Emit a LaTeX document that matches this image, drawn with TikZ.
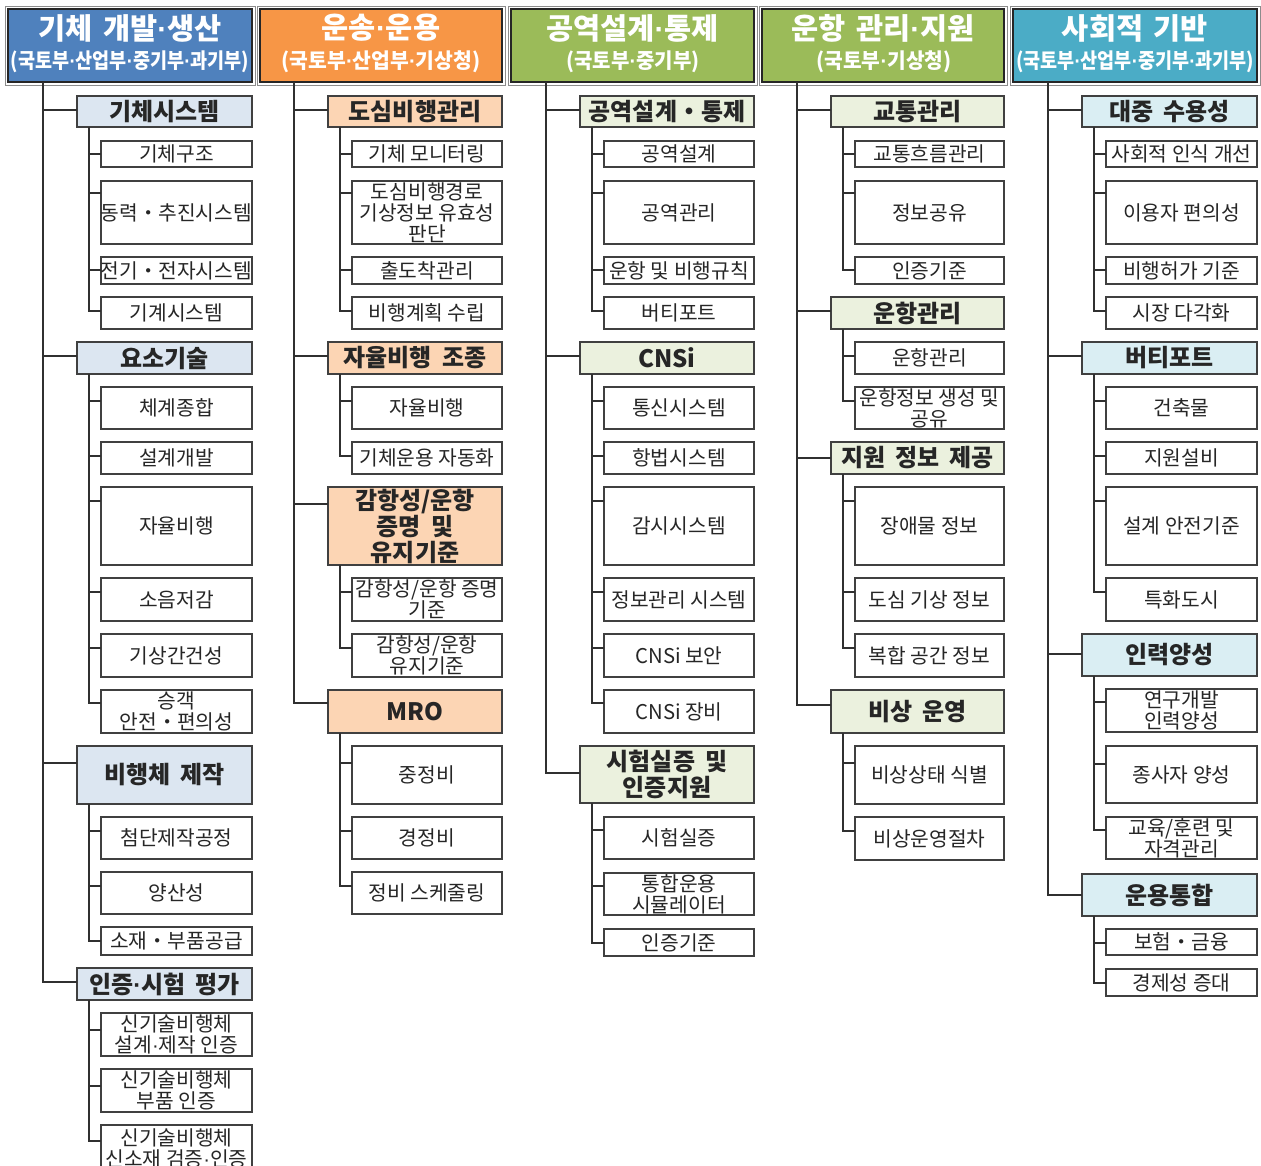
\documentclass[tikz,border=0pt]{standalone}
\usepackage{fontspec}
\setmainfont{Noto Sans CJK KR}
\newfontfamily\ldotfont{Liberation Sans}
\usepackage{graphicx}
\definecolor{hblue}{HTML}{4F81BD}
\definecolor{horange}{HTML}{F79646}
\definecolor{hgreen}{HTML}{9BBB59}
\definecolor{hteal}{HTML}{4BACC6}
\definecolor{cblue}{HTML}{DCE6F1}
\definecolor{corange}{HTML}{FCD5B4}
\definecolor{cgreen}{HTML}{EBF1DE}
\definecolor{cteal}{HTML}{DAEEF3}
\definecolor{boxline}{HTML}{404040}
\definecolor{linec}{HTML}{303030}
\definecolor{txtc}{HTML}{262626}
\newcommand{\md}{{\ldotfont ·}}
\newcommand{\bxat}[7]{\node[#1, minimum width={(#4)-(#3)}, minimum height={(#6)-(#5)}] (#2) at ({((#3)+(#4))/2},{((#5)+(#6))/2}) {#7};}
\newcommand{\lk}[4]{\draw[conn] ([xshift=#3pt]#1.south west) |- ([yshift=-#4pt]#2.north west);}
\newcommand{\catfont}{\bfseries\fontsize{24}{26}\selectfont\setlength{\spaceskip}{0.42em}}
\newcommand{\subfont}{\fontsize{20.3}{21}\selectfont}
\newcommand{\titfont}{\bfseries\fontsize{29.5}{30}\selectfont\setlength{\spaceskip}{0.35em}}
\begin{document}
\begin{tikzpicture}[x=1pt,y=-1pt,
  bx/.style={draw=boxline, line width=1.3pt, inner sep=0pt, outer sep=0pt, align=center},
  subb/.style={bx, fill=white, text=txtc, font={\subfont}},
  catb/.style={bx, line width=1.5pt, text=txtc, font={\catfont}},
  conn/.style={draw=linec, line width=1.3pt},
  hdr/.style={draw=black!85, line width=1.6pt, inner sep=0pt, outer sep=0pt, minimum height=73},
  hframe/.style={draw=black!45, line width=0.8pt},
  htitle/.style={text=white, inner sep=0pt, font={\titfont}},
  hsub/.style={text=white, inner sep=0pt, font={\bfseries\fontsize{21}{22}\selectfont}},
]
\useasboundingbox (0,0) rectangle (1261,1165);
\fill[white] (0,0) rectangle (1261,1165);

% ---------------- headers ----------------
\node[hdr, fill=hblue, minimum width=244] (H1) at (130,45.5) {};
\node[hdr, fill=horange, minimum width=242] (H2) at (381,45.5) {};
\node[hdr, fill=hgreen, minimum width=243] (H3) at (632.5,45.5) {};
\node[hdr, fill=hgreen, minimum width=242] (H4) at (883,45.5) {};
\node[hdr, fill=hteal, minimum width=244] (H5) at (1135,45.5) {};
\foreach \h in {H1,H2,H3,H4,H5}{
  \draw[hframe] ([shift={(-3pt,3pt)}]\h.north west) rectangle ([shift={(3pt,-3pt)}]\h.south east);
}
\node[htitle] (T1) at (130,28) {기체 개발\md 생산};
\node[hsub] (S1) at (130,62) {\resizebox{238pt}{\height}{(국토부\md 산업부\md 중기부\md 과기부)}};
\node[htitle] (T2) at (381,28) {운송\md 운용};
\node[hsub] (S2) at (381,62) {\resizebox{199pt}{\height}{(국토부\md 산업부\md 기상청)}};
\node[htitle] (T3) at (632.5,28) {공역설계\md 통제};
\node[hsub] (S3) at (633,62) {\resizebox{133pt}{\height}{(국토부\md 중기부)}};
\node[htitle] (T4) at (883,28) {운항 관리\md 지원};
\node[hsub] (S4) at (884,62) {\resizebox{135pt}{\height}{(국토부\md 기상청)}};
\node[htitle] (T5) at (1135,28) {사회적 기반};
\node[hsub] (S5) at (1135,62) {\resizebox{238pt}{\height}{(국토부\md 산업부\md 중기부\md 과기부)}};

% ---------------- column 1 ----------------
\bxat{catb,fill=cblue}{A1}{77}{252}{96}{127}{기체시스템}
\bxat{subb}{A11}{101}{252}{141}{167}{기체구조}
\bxat{subb}{A12}{101}{252}{181}{244}{동력・추진시스템}
\bxat{subb}{A13}{101}{252}{257}{284}{전기・전자시스템}
\bxat{subb}{A14}{101}{252}{297}{329}{기계시스템}
\bxat{catb,fill=cblue}{A2}{77}{252}{342}{374}{요소기술}
\bxat{subb}{A21}{101}{252}{387}{429}{체계종합}
\bxat{subb}{A22}{101}{252}{442}{474}{설계개발}
\bxat{subb}{A23}{101}{252}{487}{565}{자율비행}
\bxat{subb}{A24}{101}{252}{578}{621}{소음저감}
\bxat{subb}{A25}{101}{252}{634}{677}{기상간건성}
\bxat{subb}{A26}{101}{252}{690}{733}{승객\\안전・편의성}
\bxat{catb,fill=cblue}{A3}{77}{252}{746}{804}{비행체 제작}
\bxat{subb}{A31}{101}{252}{817}{859}{첨단제작공정}
\bxat{subb}{A32}{101}{252}{872}{914}{양산성}
\bxat{subb}{A33}{101}{252}{927}{955}{소재・부품공급}
\bxat{catb,fill=cblue}{A4}{77}{252}{968}{1000}{인증\md 시험 평가}
\bxat{subb}{A41}{101}{252}{1013}{1056}{신기술비행체\\설계\md 제작 인증}
\bxat{subb}{A42}{101}{252}{1069}{1112}{신기술비행체\\부품 인증}
\bxat{subb}{A43}{101}{252}{1125}{1172}{신기술비행체\\신소재 검증\md 인증}

\lk{H1}{A1}{35}{14} \lk{H1}{A2}{35}{14} \lk{H1}{A3}{35}{17} \lk{H1}{A4}{35}{14}
\lk{A1}{A11}{12}{13} \lk{A1}{A12}{12}{12} \lk{A1}{A13}{12}{13} \lk{A1}{A14}{12}{14}
\lk{A2}{A21}{12}{14} \lk{A2}{A22}{12}{14} \lk{A2}{A23}{12}{14} \lk{A2}{A24}{12}{14} \lk{A2}{A25}{12}{14} \lk{A2}{A26}{12}{13}
\lk{A3}{A31}{12}{14} \lk{A3}{A32}{12}{14} \lk{A3}{A33}{12}{14}
\lk{A4}{A41}{12}{17} \lk{A4}{A42}{12}{17} \lk{A4}{A43}{12}{16}

% ---------------- column 2 ----------------
\bxat{catb,fill=corange}{B1}{328}{502}{96}{127}{도심비행관리}
\bxat{subb}{B11}{352}{502}{141}{167}{기체 모니터링}
\bxat{subb}{B12}{352}{502}{181}{244}{도심비행경로\\기상정보 유효성\\판단}
\bxat{subb}{B13}{352}{502}{257}{284}{출도착관리}
\bxat{subb}{B14}{352}{502}{297}{329}{비행계획 수립}
\bxat{catb,fill=corange}{B2}{328}{502}{342}{374}{자율비행 조종}
\bxat{subb}{B21}{352}{502}{387}{429}{자율비행}
\bxat{subb}{B22}{352}{502}{442}{474}{기체운용 자동화}
\bxat{catb,fill=corange}{B3}{328}{502}{487}{565}{감항성/운항\\증명 및\\유지기준}
\bxat{subb}{B31}{352}{502}{578}{621}{감항성/운항 증명\\기준}
\bxat{subb}{B32}{352}{502}{634}{677}{감항성/운항\\유지기준}
\bxat{catb,fill=corange}{B4}{328}{502}{690}{733}{MRO}
\bxat{subb}{B41}{352}{502}{746}{804}{중정비}
\bxat{subb}{B42}{352}{502}{817}{859}{경정비}
\bxat{subb}{B43}{352}{502}{872}{914}{정비 스케줄링}

\lk{H2}{B1}{34}{14} \lk{H2}{B2}{34}{14} \lk{H2}{B3}{34}{17} \lk{H2}{B4}{34}{13}
\lk{B1}{B11}{12}{13} \lk{B1}{B12}{12}{12} \lk{B1}{B13}{12}{13} \lk{B1}{B14}{12}{14}
\lk{B2}{B21}{12}{14} \lk{B2}{B22}{12}{14}
\lk{B3}{B31}{12}{14} \lk{B3}{B32}{12}{14}
\lk{B4}{B41}{12}{17} \lk{B4}{B42}{12}{14} \lk{B4}{B43}{12}{14}

% ---------------- column 3 ----------------
\bxat{catb,fill=cgreen}{C1}{580}{754}{96}{127}{공역설계・통제}
\bxat{subb}{C11}{604}{754}{141}{167}{공역설계}
\bxat{subb}{C12}{604}{754}{181}{244}{공역관리}
\bxat{subb}{C13}{604}{754}{257}{284}{운항 및 비행규칙}
\bxat{subb}{C14}{604}{754}{297}{329}{버티포트}
\bxat{catb,fill=cgreen}{C2}{580}{754}{342}{374}{CNSi}
\bxat{subb}{C21}{604}{754}{387}{429}{통신시스템}
\bxat{subb}{C22}{604}{754}{442}{474}{항법시스템}
\bxat{subb}{C23}{604}{754}{487}{565}{감시시스템}
\bxat{subb}{C24}{604}{754}{578}{621}{정보관리 시스템}
\bxat{subb}{C25}{604}{754}{634}{677}{CNSi 보안}
\bxat{subb}{C26}{604}{754}{690}{733}{CNSi 장비}
\bxat{catb,fill=cgreen}{C3}{580}{754}{746}{803}{시험실증 및\\인증지원}
\bxat{subb}{C31}{604}{754}{817}{859}{시험실증}
\bxat{subb}{C32}{604}{754}{873}{915}{통합운용\\시뮬레이터}
\bxat{subb}{C33}{604}{754}{929}{956}{인증기준}

\lk{H3}{C1}{35}{14} \lk{H3}{C2}{35}{14} \lk{H3}{C3}{35}{27}
\lk{C1}{C11}{12}{13} \lk{C1}{C12}{12}{12} \lk{C1}{C13}{12}{13} \lk{C1}{C14}{12}{14}
\lk{C2}{C21}{12}{14} \lk{C2}{C22}{12}{14} \lk{C2}{C23}{12}{14} \lk{C2}{C24}{12}{14} \lk{C2}{C25}{12}{14} \lk{C2}{C26}{12}{13}
\lk{C3}{C31}{12}{13} \lk{C3}{C32}{12}{13} \lk{C3}{C33}{12}{14}

% ---------------- column 4 ----------------
\bxat{catb,fill=cgreen}{D1}{831}{1004}{96}{127}{교통관리}
\bxat{subb}{D11}{855}{1004}{141}{167}{교통흐름관리}
\bxat{subb}{D12}{855}{1004}{181}{244}{정보공유}
\bxat{subb}{D13}{855}{1004}{257}{284}{인증기준}
\bxat{catb,fill=cgreen}{D2}{831}{1004}{297}{329}{운항관리}
\bxat{subb}{D21}{855}{1004}{342}{374}{운항관리}
\bxat{subb}{D22}{855}{1004}{387}{429}{운항정보 생성 및\\공유}
\bxat{catb,fill=cgreen}{D3}{831}{1004}{442}{474}{지원 정보 제공}
\bxat{subb}{D31}{855}{1004}{487}{565}{장애물 정보}
\bxat{subb}{D32}{855}{1004}{578}{621}{도심 기상 정보}
\bxat{subb}{D33}{855}{1004}{634}{677}{복합 공간 정보}
\bxat{catb,fill=cgreen}{D4}{831}{1004}{690}{733}{비상 운영}
\bxat{subb}{D41}{855}{1004}{746}{804}{비상상태 식별}
\bxat{subb}{D42}{855}{1004}{817}{860}{비상운영절차}

\lk{H4}{D1}{35}{14} \lk{H4}{D2}{35}{14} \lk{H4}{D3}{35}{16} \lk{H4}{D4}{35}{15}
\lk{D1}{D11}{12}{13} \lk{D1}{D12}{12}{12} \lk{D1}{D13}{12}{13}
\lk{D2}{D21}{12}{14} \lk{D2}{D22}{12}{14}
\lk{D3}{D31}{12}{14} \lk{D3}{D32}{12}{14} \lk{D3}{D33}{12}{14}
\lk{D4}{D41}{12}{17} \lk{D4}{D42}{12}{14}

% ---------------- column 5 ----------------
\bxat{catb,fill=cteal}{E1}{1082}{1257}{96}{127}{대중 수용성}
\bxat{subb}{E11}{1106}{1257}{141}{167}{사회적 인식 개선}
\bxat{subb}{E12}{1106}{1257}{181}{244}{이용자 편의성}
\bxat{subb}{E13}{1106}{1257}{257}{284}{비행허가 기준}
\bxat{subb}{E14}{1106}{1257}{297}{329}{시장 다각화}
\bxat{catb,fill=cteal}{E2}{1082}{1257}{342}{374}{버티포트}
\bxat{subb}{E21}{1106}{1257}{387}{429}{건축물}
\bxat{subb}{E22}{1106}{1257}{442}{474}{지원설비}
\bxat{subb}{E23}{1106}{1257}{487}{565}{설계 안전기준}
\bxat{subb}{E24}{1106}{1257}{578}{621}{특화도시}
\bxat{catb,fill=cteal}{E3}{1082}{1257}{634}{676}{인력양성}
\bxat{subb}{E31}{1106}{1257}{689}{732}{연구개발\\인력양성}
\bxat{subb}{E32}{1106}{1257}{746}{803}{종사자 양성}
\bxat{subb}{E33}{1106}{1257}{817}{859}{교육/훈련 및\\자격관리}
\bxat{catb,fill=cteal}{E4}{1082}{1257}{874}{916}{운용통합}
\bxat{subb}{E41}{1106}{1257}{929}{955}{보험・금융}
\bxat{subb}{E42}{1106}{1257}{969}{996}{경제성 증대}

\lk{H5}{E1}{35}{14} \lk{H5}{E2}{35}{14} \lk{H5}{E3}{35}{20} \lk{H5}{E4}{35}{21}
\lk{E1}{E11}{12}{13} \lk{E1}{E12}{12}{12} \lk{E1}{E13}{12}{13} \lk{E1}{E14}{12}{14}
\lk{E2}{E21}{12}{14} \lk{E2}{E22}{12}{14} \lk{E2}{E23}{12}{14} \lk{E2}{E24}{12}{14}
\lk{E3}{E31}{12}{13} \lk{E3}{E32}{12}{18} \lk{E3}{E33}{12}{13}
\lk{E4}{E41}{12}{14} \lk{E4}{E42}{12}{14}
\end{tikzpicture}
\end{document}
